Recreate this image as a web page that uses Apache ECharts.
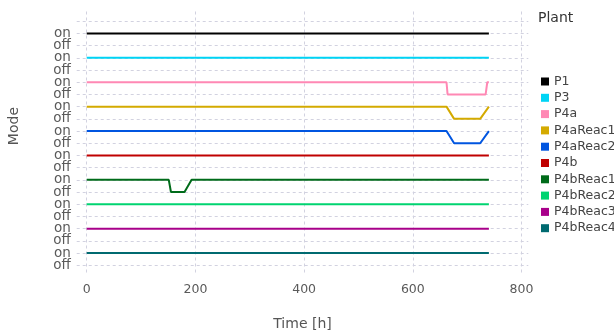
<!DOCTYPE html>
<html><head><meta charset="utf-8">
<script src="https://cdn.jsdelivr.net/npm/echarts@6/dist/echarts.min.js"></script>
<style>html,body{margin:0;padding:0;background:#fff}#c{width:614px;height:336px}</style>
</head><body><div id="c"></div>
<script>
const plants = ['P1','P3','P4a','P4aReac1','P4aReac2','P4b','P4bReac1','P4bReac2','P4bReac3','P4bReac4'];
const colors = ['#000000','#00d4f5','#ff88b4','#d4aa00','#0055e0','#c00000','#006b1a','#00d470','#a8008a','#006a70'];
const modeLabels = ['off','on'];
const xTicks = [0,200,400,600,800];

const timeP1 = [0,740];            const modeP1 = [1,1];
const timeP3 = [0,740];            const modeP3 = [1,1];
const timeP4a = [0,662,664,734,737,740];   const modeP4a = [1,1,0,0,1,1];
const timeP4aReac1 = [0,662,676,724,740];  const modeP4aReac1 = [1,1,0,0,1];
const timeP4aReac2 = [0,662,676,724,740];  const modeP4aReac2 = [1,1,0,0,1];
const timeP4b = [0,740];           const modeP4b = [1,1];
const timeP4bReac1 = [0,151,155,180,193,740]; const modeP4bReac1 = [1,1,0,0,1,1];
const timeP4bReac2 = [0,740];      const modeP4bReac2 = [1,1];
const timeP4bReac3 = [0,740];      const modeP4bReac3 = [1,1];
const timeP4bReac4 = [0,740];      const modeP4bReac4 = [1,1];

const times = [timeP1,timeP3,timeP4a,timeP4aReac1,timeP4aReac2,timeP4b,timeP4bReac1,timeP4bReac2,timeP4bReac3,timeP4bReac4];
const modes = [modeP1,modeP3,modeP4a,modeP4aReac1,modeP4aReac2,modeP4b,modeP4bReac1,modeP4bReac2,modeP4bReac3,modeP4bReac4];

const n = plants.length;
const offVals = [], onVals = [], gridVals = [];
for (let k = 0; k < n; k++) { offVals.push(2*k); onVals.push(2*k+1); }
for (let k = 0; k <= 2*n; k++) gridVals.push(k);

const series = plants.map((p, i) => {
  const base = 2*(n-1-i);
  return {
    name: p, type: 'line', showSymbol: false, symbol: 'none', yAxisIndex: 0,
    lineStyle: {width: 2, color: colors[i]}, itemStyle: {color: colors[i]},
    data: times[i].map((t, j) => [t, base + modes[i][j]]),
    silent: true, animation: false
  };
});

const chart = echarts.init(document.getElementById('c'), null, {renderer: 'canvas'});
const font = 'DejaVu Sans';
const labelStyle = {fontFamily: font, fontSize: 13.5, color: '#5a5a5a', margin: 6, hideOverlap: false};
const yBase = {type: 'value', min: -0.8, max: 20.8, position: 'left', axisLine: {show: false}};
chart.setOption({
  animation: false,
  textStyle: {fontFamily: font},
  grid: {left: 76.7, right: 85.7, top: 11.5, bottom: 58.7},
  title: {text: 'Plant', left: 533, top: 6, textStyle: {fontFamily: font, fontSize: 14, fontWeight: 'normal', color: '#333'}},
  legend: {
    orient: 'vertical', left: 536, top: 69.5, icon: 'rect', itemWidth: 8, itemHeight: 8, itemGap: 2.3,
    textStyle: {fontFamily: font, fontSize: 12.5, color: '#444', lineHeight: 14},
    data: plants
  },
  xAxis: {
    type: 'value', min: -18.4, max: 812.5,
    name: 'Time [h]', nameLocation: 'middle', nameGap: 42,
    nameTextStyle: {fontFamily: font, fontSize: 14, color: '#555'},
    axisLine: {show: false},
    axisTick: {show: false, customValues: xTicks},
    axisLabel: {customValues: xTicks, fontFamily: font, fontSize: 12.5, color: '#5a5a5a', margin: 8},
    splitLine: {show: true, lineStyle: {color: '#d2d2e0', type: [3,3], width: 1}}
  },
  yAxis: [
    Object.assign({}, yBase, {
      axisTick: {show: false, customValues: gridVals},
      axisLabel: Object.assign({}, labelStyle, {customValues: onVals, formatter: v => modeLabels[1]}),
      splitLine: {show: true, lineStyle: {color: '#d2d2e0', type: [3,3], width: 1}}
    }),
    Object.assign({}, yBase, {
      axisTick: {show: false, customValues: offVals},
      axisLabel: Object.assign({}, labelStyle, {customValues: offVals, formatter: v => modeLabels[0]}),
      splitLine: {show: false}
    })
  ],
  graphic: [{type: 'text', left: 7, top: 107, rotation: Math.PI/2, originX: 0, originY: 0,
    style: {text: 'Mode', font: '14px "DejaVu Sans"', fill: '#555', textAlign: 'center', textVerticalAlign: 'middle'}}],
  series: series
});
</script></body></html>
